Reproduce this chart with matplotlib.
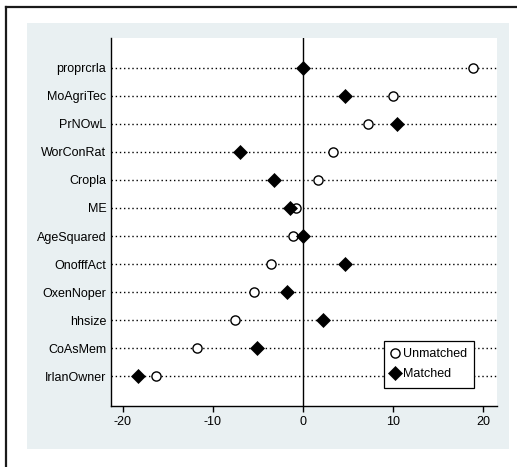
import numpy as np
import matplotlib
matplotlib.use('Agg')
import matplotlib.pyplot as plt
from matplotlib.patches import Rectangle
from matplotlib.lines import Line2D

plt.rcParams['font.family'] = ['Liberation Sans', 'DejaVu Sans']
plt.rcParams['font.size'] = 9.0

# covariates, top to bottom
variables = ['proprcrla', 'MoAgriTec', 'PrNOwL', 'WorConRat', 'Cropla', 'ME',
             'AgeSquared', 'OnofffAct', 'OxenNoper', 'hhsize', 'CoAsMem', 'IrlanOwner']
# standardized % bias before / after matching
unmatched = [18.9, 10.0, 7.2, 3.3, 1.7, -0.8, -1.1, -3.5, -5.4, -7.6, -11.8, -16.3]
matched = [0.0, 4.7, 10.4, -7.0, -3.2, -1.4, 0.0, 4.7, -1.8, 2.2, -5.1, -18.3]
xticks = [-20, -10, 0, 10, 20]

W, H = 517, 467
fig = plt.figure(figsize=(W / 100, H / 100), dpi=100)
fig.patch.set_facecolor('white')

# outer frame (only left/top edges visible) and light graph region
fig.add_artist(Line2D([6 / W, 6 / W], [0, 1 - 7 / H], transform=fig.transFigure,
                      color='#1a1a1a', linewidth=1.6, zorder=-2))
fig.add_artist(Line2D([6 / W, 1], [1 - 7 / H, 1 - 7 / H], transform=fig.transFigure,
                      color='#1a1a1a', linewidth=1.6, zorder=-2))
fig.add_artist(Rectangle((27 / W, (H - 449) / H), 482 / W, 426 / H, transform=fig.transFigure,
                         facecolor='#e9f0f2', edgecolor='none', zorder=-2))

ax = fig.add_axes([111 / W, (H - 406) / H, 386 / W, 368 / H])
ax.set_facecolor('white')

ypos = np.arange(len(variables))
for y in ypos:
    ax.axhline(y, color='black', linestyle=(0, (1, 2)), linewidth=1.0, zorder=1)
ax.axvline(0, color='black', linewidth=1.0, zorder=2)

ax.plot(unmatched, ypos, linestyle='none', marker='o', markersize=6.6,
        markerfacecolor='white', markeredgecolor='black', markeredgewidth=1.0,
        label='Unmatched', zorder=3)
ax.plot(matched, ypos, linestyle='none', marker='D', markersize=7.0,
        markerfacecolor='black', markeredgecolor='black', markeredgewidth=0.5,
        label='Matched', zorder=4)

ax.set_ylim(len(variables) - 1 + 1.07, -1.07)
ax.set_xlim(-21.33, 21.56)
ax.set_yticks(ypos)
ax.set_yticklabels(variables)
ax.set_xticks(xticks)
ax.set_xticklabels([str(t) for t in xticks])
ax.tick_params(axis='y', length=0, pad=3.4)
ax.tick_params(axis='x', direction='out', length=4, width=1.0, pad=3)

for side in ['top', 'right']:
    ax.spines[side].set_visible(False)
for side in ['left', 'bottom']:
    ax.spines[side].set_linewidth(1.0)
    ax.spines[side].set_color('black')

leg = ax.legend(loc='lower left', bbox_to_anchor=(0.707, 0.049), borderaxespad=0,
                fancybox=False, framealpha=1, edgecolor='black',
                handlelength=0.55, handletextpad=0.35, borderpad=0.6, labelspacing=0.65)
leg.get_frame().set_linewidth(0.9)
leg.set_zorder(10)

fig.savefig('out.png', dpi=100)
